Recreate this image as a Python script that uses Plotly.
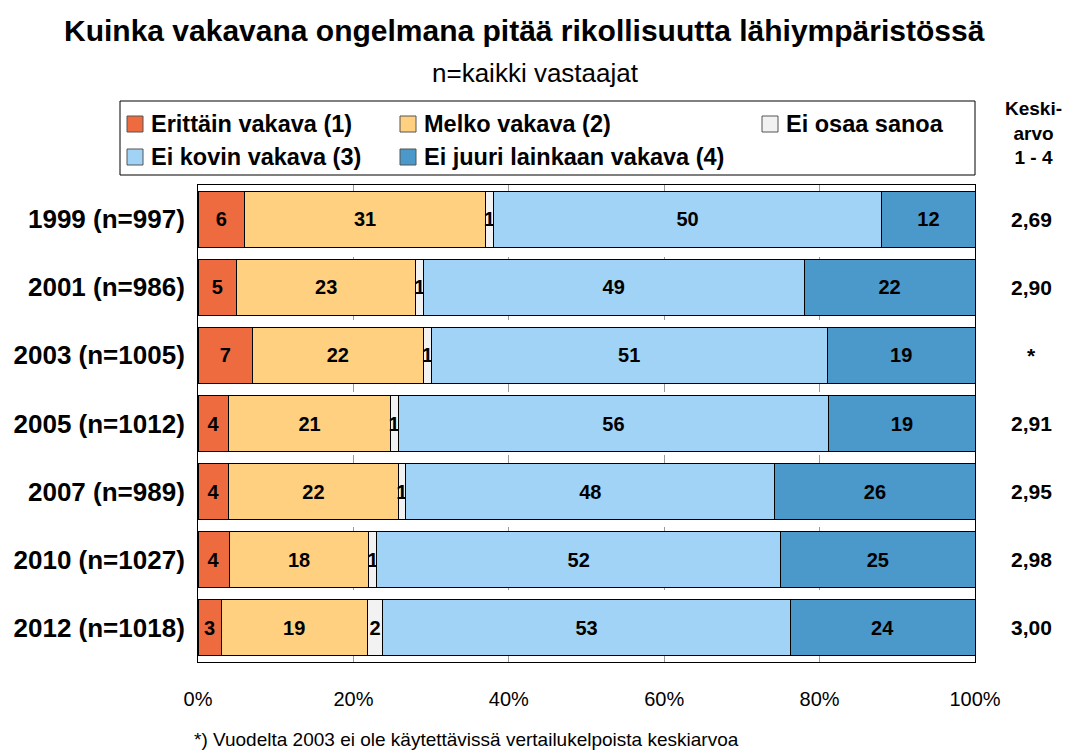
import plotly.graph_objects as go

years = ["1999 (n=997)", "2001 (n=986)", "2003 (n=1005)", "2005 (n=1012)",
         "2007 (n=989)", "2010 (n=1027)", "2012 (n=1018)"]
series_names = ["Erittäin vakava (1)", "Melko vakava (2)", "Ei osaa sanoa",
                "Ei kovin vakava (3)", "Ei juuri lainkaan vakava (4)"]
erittain = [6, 5, 7, 4, 4, 4, 3]
melko = [31, 23, 22, 21, 22, 18, 19]
eos = [1, 1, 1, 1, 1, 1, 2]
ei_kovin = [50, 49, 51, 56, 48, 52, 53]
ei_juuri = [12, 22, 19, 19, 26, 25, 24]
keskiarvo = ["2,69", "2,90", "*", "2,91", "2,95", "2,98", "3,00"]
x_ticks = [0, 20, 40, 60, 80, 100]
x_tick_labels = ["0%", "20%", "40%", "60%", "80%", "100%"]

colors = ["#EE6B40", "#FFD07F", "#F2F2F2", "#A0D3F6", "#4B98CA"]
series = [erittain, melko, eos, ei_kovin, ei_juuri]

FONT = "Arial, Liberation Sans, sans-serif"

fig = go.Figure()
for name, vals, col in zip(series_names, series, colors):
    fig.add_trace(go.Bar(
        y=years, x=vals, name=name, orientation="h",
        marker=dict(color=col, line=dict(color="black", width=1)),
        text=[str(v) for v in vals], textposition="inside",
        insidetextanchor="middle", constraintext="none",
        textfont=dict(family=FONT, size=20, color="black", weight="bold"),
        showlegend=False, hoverinfo="x+y+name",
    ))

L, R, T, B = 198, 975, 185, 662
W, H = 1067, 753

fig.update_layout(
    width=W, height=H,
    margin=dict(l=L, r=W - R, t=T, b=H - B),
    barmode="stack", barnorm="percent", bargap=0.18,
    plot_bgcolor="white", paper_bgcolor="white",
    uniformtext=dict(minsize=20, mode="show"),
    font=dict(family=FONT, color="black"),
    xaxis=dict(range=[0, 100], tickvals=x_ticks, ticktext=x_tick_labels,
               showgrid=True, gridcolor="#9a9a9a", griddash="dash", gridwidth=1,
               zeroline=False, showline=True, linecolor="black", mirror=True,
               ticks="", tickfont=dict(size=20, family=FONT), ticklabelstandoff=19),
    yaxis=dict(autorange="reversed", showline=True, linecolor="black", mirror=True,
               ticks="", tickfont=dict(size=26, family=FONT, weight="bold"),
               ticklabelstandoff=7),
)

anns = []
anns.append(dict(text="<b>Kuinka vakavana ongelmana pitää rikollisuutta lähiympäristössä</b>",
                 x=524, y=31, showarrow=False, font=dict(size=30, family=FONT)))
anns.append(dict(text="n=kaikki vastaajat", x=535, y=73, showarrow=False,
                 font=dict(size=26, family=FONT)))
anns.append(dict(text="*) Vuodelta 2003 ei ole käytettävissä vertailukelpoista keskiarvoa",
                 x=466, y=739, showarrow=False, font=dict(size=19, family=FONT)))
anns.append(dict(text="<b>Keski-<br>arvo<br>1 - 4</b>", x=1033, y=133, showarrow=False,
                 font=dict(size=19, family=FONT)))

# convert pixel positions to paper coordinates
def px(xp):
    return (xp - L) / (R - L)

def py(yp):
    return (B - yp) / (B - T)

for a in anns:
    a["x"] = px(a["x"])
    a["y"] = py(a["y"])
    a["xref"] = "paper"
    a["yref"] = "paper"
    a["xanchor"] = "center"
    a["yanchor"] = "middle"

for yr, k in zip(years, keskiarvo):
    anns.append(dict(text="<b>" + k + "</b>", x=px(1031), y=yr, xref="paper", yref="y",
                     showarrow=False, xanchor="center", yanchor="middle",
                     font=dict(size=21, family=FONT)))

# legend drawn manually
shapes = [dict(type="rect", xref="paper", yref="paper", x0=px(120), x1=px(975),
               y0=py(101), y1=py(175), line=dict(color="black", width=1),
               fillcolor="white", layer="above")]
legend_pos = [(127, 124), (400, 124), (762, 124), (127, 157), (400, 157)]
for (lx, ly), name, col in zip(legend_pos, series_names, colors):
    shapes.append(dict(type="rect", xref="paper", yref="paper",
                       x0=px(lx), x1=px(lx + 16), y0=py(ly + 8), y1=py(ly - 8),
                       fillcolor=col, line=dict(color="#555555", width=1), layer="above"))
    anns.append(dict(text="<b>" + name + "</b>", x=px(lx + 22), y=py(ly),
                     xref="paper", yref="paper", xanchor="left", yanchor="middle",
                     showarrow=False, font=dict(size=23.5, family=FONT)))

fig.update_layout(annotations=anns, shapes=shapes)
fig.write_html("out.html", config={"displayModeBar": False},
               post_script="document.body.style.margin='0';")
